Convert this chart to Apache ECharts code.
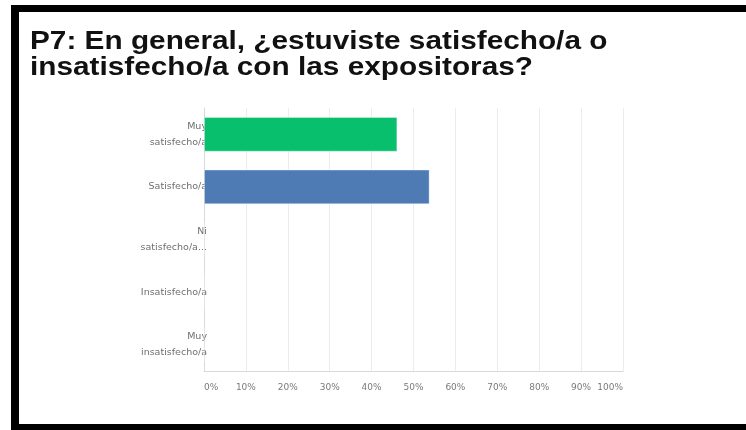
<!DOCTYPE html>
<html>
<head>
<meta charset="utf-8">
<script src="https://cdn.jsdelivr.net/npm/echarts@6/dist/echarts.min.js"></script>
<style>
  html, body { margin: 0; padding: 0; background: #fff; }
  #chart { width: 746px; height: 430px; }
</style>
</head>
<body>
<div id="chart"></div>
<script>
// Answer options, top to bottom
const categories = [
  'Muy\nsatisfecho/a',
  'Satisfecho/a',
  'Ni\nsatisfecho/a...',
  'Insatisfecho/a',
  'Muy\ninsatisfecho/a'
];
// Share of responses (%) for each option
const values = [46.15, 53.85, 0, 0, 0];
const barColors = ['#08bf6e', '#4f7bb5', '#08bf6e', '#4f7bb5', '#08bf6e'];
const tickValues = [0, 10, 20, 30, 40, 50, 60, 70, 80, 90, 100];

const chart = echarts.init(document.getElementById('chart'), null, { renderer: 'canvas' });

chart.setOption({
  backgroundColor: '#ffffff',
  animation: false,
  graphic: [
    // black frame: top, left and bottom bars
    { type: 'rect', shape: { x: 11, y: 5, width: 735, height: 7 }, style: { fill: '#000' } },
    { type: 'rect', shape: { x: 11, y: 5, width: 8, height: 425 }, style: { fill: '#000' } },
    { type: 'rect', shape: { x: 11, y: 424, width: 735, height: 6 }, style: { fill: '#000' } },
    {
      type: 'text', x: 30, y: 29, scaleX: 1.145,
      style: {
        text: 'P7: En general, ¿estuviste satisfecho/a o\ninsatisfecho/a con las expositoras?',
        font: 'bold 26px "Liberation Sans", Arial, sans-serif',
        lineHeight: 26,
        fill: '#111'
      }
    }
  ],
  grid: { left: 204, right: 123, top: 108, bottom: 59, containLabel: false },
  xAxis: {
    type: 'value',
    min: 0, max: 100, interval: 10,
    axisLine: { show: true, lineStyle: { color: '#d9d9d9' } },
    axisTick: { show: false },
    splitLine: { show: true, lineStyle: { color: '#ececec' } },
    axisLabel: {
      formatter: v => tickValues.includes(v) ? v + '%' : '',
      color: '#7a7a7a',
      fontSize: 9,
      fontFamily: '"DejaVu Sans", sans-serif',
      margin: 12,
      alignMinLabel: 'left',
      alignMaxLabel: 'right'
    }
  },
  yAxis: {
    type: 'category',
    inverse: true,
    data: categories,
    axisLine: { show: true, lineStyle: { color: '#d9d9d9' } },
    axisTick: { show: false },
    splitLine: { show: false },
    axisLabel: {
      color: '#6f6f6f',
      fontSize: 9.5,
      fontFamily: '"DejaVu Sans", sans-serif',
      lineHeight: 16,
      margin: -3,
      align: 'right'
    }
  },
  series: [{
    type: 'bar',
    data: values.map((v, i) => ({ value: v, itemStyle: { color: barColors[i] } })),
    barWidth: '66%',
    itemStyle: { borderColor: 'rgba(255,255,255,0.35)', borderWidth: 1 },
    z: 1
  }]
});
</script>
</body>
</html>
